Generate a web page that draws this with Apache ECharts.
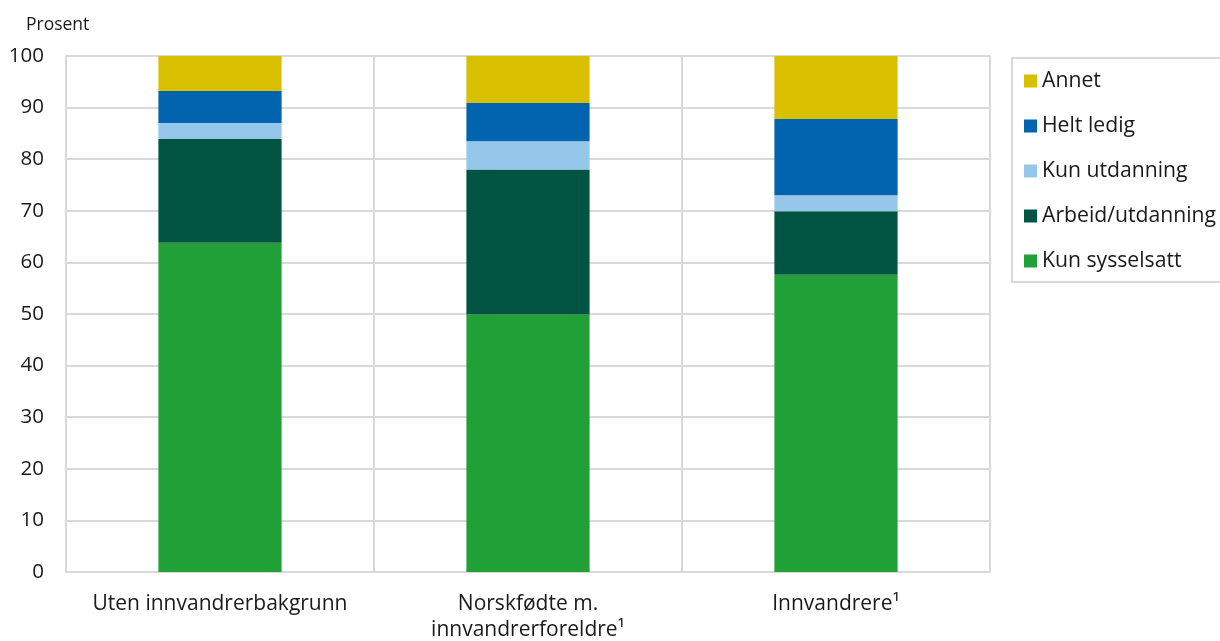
<!DOCTYPE html>
<html>
<head>
<meta charset="utf-8">
<script src="https://cdn.jsdelivr.net/npm/echarts@6/dist/echarts.min.js"></script>
<style>html,body{margin:0;padding:0;background:#fff}#c{width:1220px;height:641px}</style>
</head>
<body>
<div id="c"></div>
<script>
const categories = ['Uten innvandrerbakgrunn', 'Norskfødte m.\ninnvandrerforeldre¹', 'Innvandrere¹'];
const kunSysselsatt = [63.8, 49.9, 57.6];
const arbeidUtdanning = [20.1, 28.1, 12.3];
const kunUtdanning = [3.1, 5.5, 3.1];
const heltLedig = [6.2, 7.4, 14.8];
const annet = [6.8, 9.1, 12.2];
const legendOrder = ['Annet', 'Helt ledig', 'Kun utdanning', 'Arbeid/utdanning', 'Kun sysselsatt'];

const FONT = '"Open Sans", "Noto Sans", sans-serif';
const TXT = '#1a1a1a';
const GRID = '#d9d9d9';

function s(name, data, color) {
  return { name, type: 'bar', stack: 'a', data, barWidth: '40%', itemStyle: { color }, emphasis: { disabled: true } };
}

const chart = echarts.init(document.getElementById('c'), null, { renderer: 'canvas' });
chart.setOption({
  animation: false,
  textStyle: { fontFamily: FONT },
  grid: { left: 66, right: 230, top: 56, bottom: 69, containLabel: false, outerBoundsMode: 'none' },
  legend: {
    data: legendOrder,
    orient: 'vertical',
    left: 1012, top: 58,
    padding: [11, 60, 9, 12],
    itemGap: 21,
    itemWidth: 13, itemHeight: 13,
    icon: 'rect',
    borderColor: GRID, borderWidth: 2,
    textStyle: { fontFamily: FONT, fontSize: 21.2, color: TXT, lineHeight: 24 }
  },
  xAxis: {
    type: 'category', data: categories,
    axisLine: { show: true, lineStyle: { color: GRID, width: 2 } },
    axisTick: { show: false },
    splitLine: { show: true, interval: 0, lineStyle: { color: GRID, width: 2 } },
    axisLabel: { interval: 0, hideOverlap: false, fontFamily: FONT, fontSize: 21, color: TXT, margin: 19, lineHeight: 26 }
  },
  yAxis: {
    type: 'value', min: 0, max: 100, interval: 10,
    name: 'Prosent', nameLocation: 'end', nameGap: 22,
    nameTextStyle: { fontFamily: FONT, fontSize: 17.5, color: TXT, align: 'left', padding: [0, 0, 0, -40] },
    axisLine: { show: true, lineStyle: { color: GRID, width: 2 } },
    axisTick: { show: false },
    splitLine: { show: true, lineStyle: { color: GRID, width: 2 } },
    axisLabel: { fontFamily: FONT, fontSize: 20.5, color: TXT, margin: 22 }
  },
  series: [
    s('Kun sysselsatt', kunSysselsatt, '#22a038'),
    s('Arbeid/utdanning', arbeidUtdanning, '#025442'),
    s('Kun utdanning', kunUtdanning, '#96c7eb'),
    s('Helt ledig', heltLedig, '#0063ae'),
    s('Annet', annet, '#d8bf00')
  ]
});
</script>
</body>
</html>
